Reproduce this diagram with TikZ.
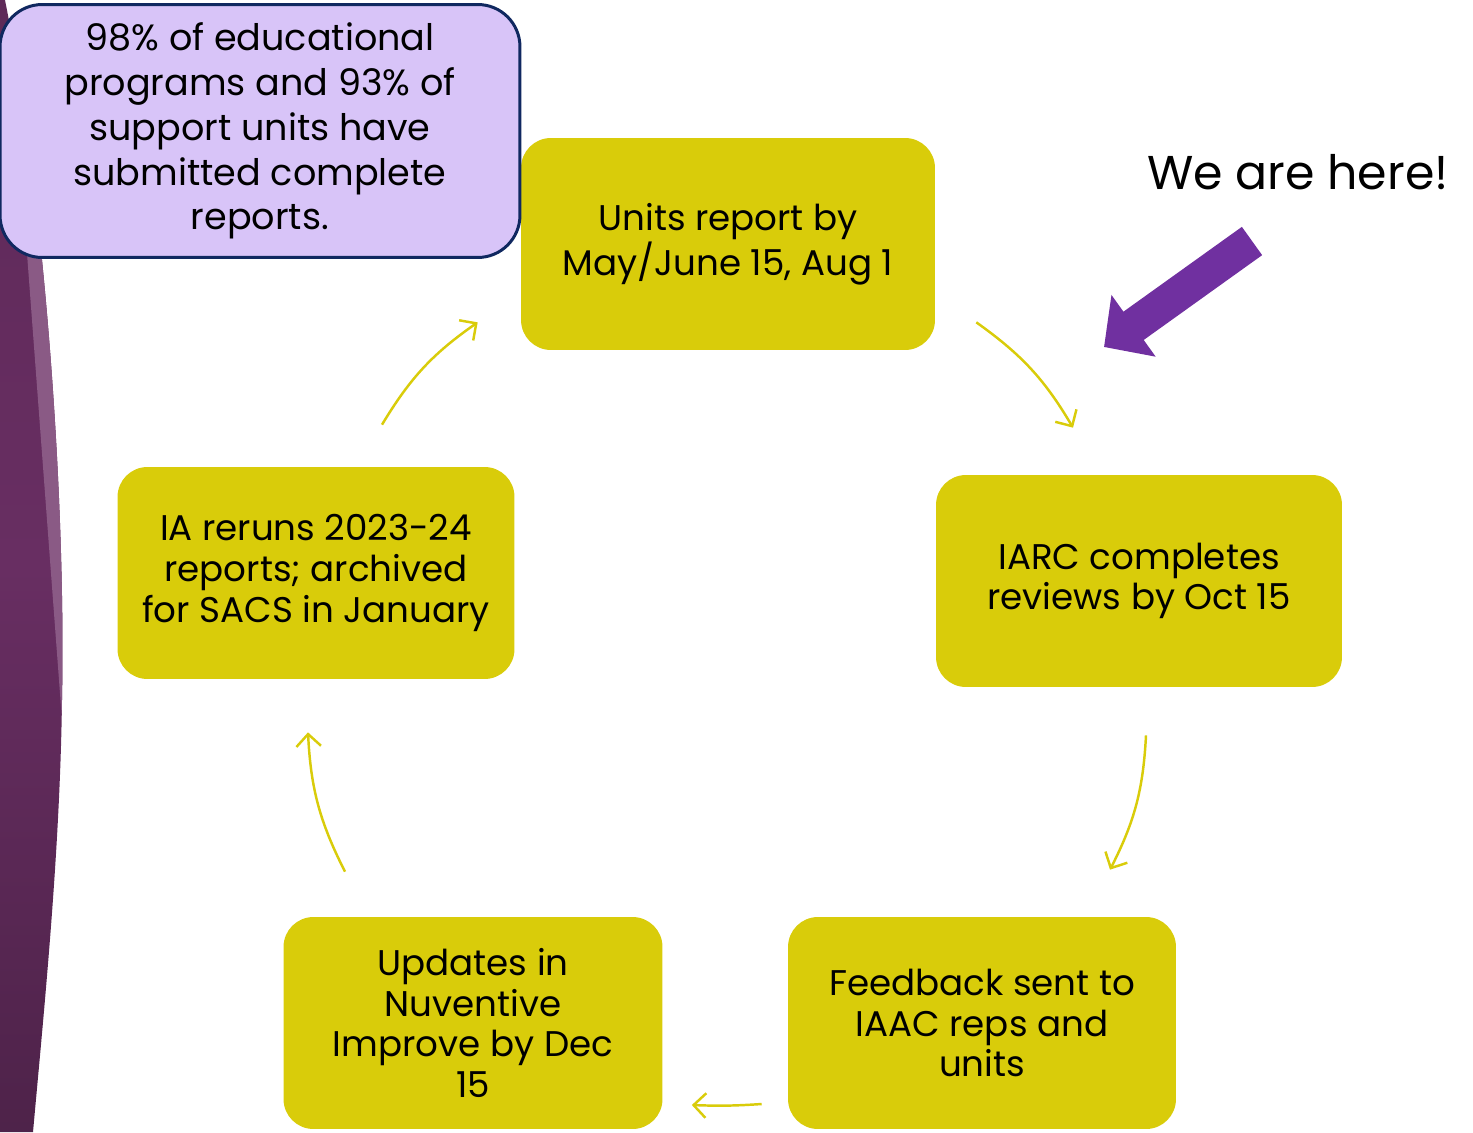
\documentclass[tikz,border=0pt]{standalone}
\usepackage{fontspec}
\setmainfont{Poppins}
\usetikzlibrary{arrows.meta,positioning}
\definecolor{stageyellow}{RGB}{217,204,10}
\definecolor{notefill}{RGB}{216,196,248}
\definecolor{noteline}{RGB}{16,40,96}
\definecolor{herepurple}{RGB}{112,48,160}
\definecolor{banddark}{RGB}{104,46,98}
\definecolor{bandlight}{RGB}{138,90,133}
\tikzset{
  stage/.style={rectangle, rounded corners=17pt, fill=stageyellow, align=center,
    minimum height=4.24cm, inner sep=2pt,
    font=\fontsize{20.3}{23.2}\selectfont},
  flow/.style={draw=stageyellow, line width=1.4pt,
    -{Straight Barb[length=7pt,width=14pt,line width=1.4pt]}},
}
\begin{document}
\begin{tikzpicture}[x=0.02cm, y=-0.02cm]
  \useasboundingbox (0,0) rectangle (1473,1132);
  % side band
  \begin{scope}
    \clip (0,0) -- (5,0) .. controls (45,200) and (66,500) .. (62,700)
      .. controls (60,850) and (45,1000) .. (33,1132) -- (0,1132) -- cycle;
    \shade[top color=banddark!90!black, bottom color=banddark!75!black,
      middle color=banddark] (0,0) rectangle (80,1132);
    \fill[bandlight] (8,0) -- (62,720) -- (100,720) -- (100,0) -- cycle;
  \end{scope}
  % stages
  \node[stage, minimum width=8.28cm] (units) at (728,244)
    {Units report by\\May/June 15, Aug 1};
  \node[stage, minimum width=8.12cm] (iarc) at (1139,581)
    {IARC completes\\reviews by Oct 15};
  \node[stage, minimum width=7.76cm] (feedback) at (982,1023)
    {Feedback sent to\\IAAC reps and\\units};
  \node[stage, minimum width=7.58cm] (updates) at (473,1023)
    {Updates in\\Nuventive\\Improve by Dec\\15};
  \node[stage, minimum width=7.94cm] (rerun) at (316,573)
    {IA reruns 2023-24\\reports; archived\\for SACS in January};
  % cycle arrows
  \draw[flow] ([shift={(41,-28)}]units.south east) to[bend left=12]
    ([shift={(-66,-47)}]iarc.north);
  \draw[flow] ([shift={(7,48)}]iarc.south) to[bend left=12]
    ([shift={(128,-47)}]feedback.north);
  \draw[flow] ([shift={(-26,81)}]feedback.west) to[bend left=3]
    ([shift={(29,82)}]updates.east);
  \draw[flow] ([shift={(-128,-45)}]updates.north) to[bend left=12]
    ([shift={(-8,53)}]rerun.south);
  \draw[flow] ([shift={(66,-42)}]rerun.north) to[bend left=12]
    ([shift={(-43,-28)}]units.south west);
  % note
  \node[rectangle, rounded corners=24pt, fill=notefill, draw=noteline,
    line width=1.7pt, minimum width=10.4cm, minimum height=5.06cm,
    align=center, font=\fontsize{20.8}{25.5}\selectfont] (note) at (260,131)
    {98\% of educational\\programs and 93\% of\\support units have\\submitted complete\\reports.};
  % we are here
  \node[font=\fontsize{27}{32}\selectfont, anchor=center] (here) at (1298,172) {We are here!};
  \coordinate (tail) at (1252,241);
  \coordinate (tip) at (1104,347);
  \draw[herepurple, line width=19.8pt,
    -{Triangle[length=20.7pt,width=42pt]}] (tail) -- (tip);
\end{tikzpicture}
\end{document}
